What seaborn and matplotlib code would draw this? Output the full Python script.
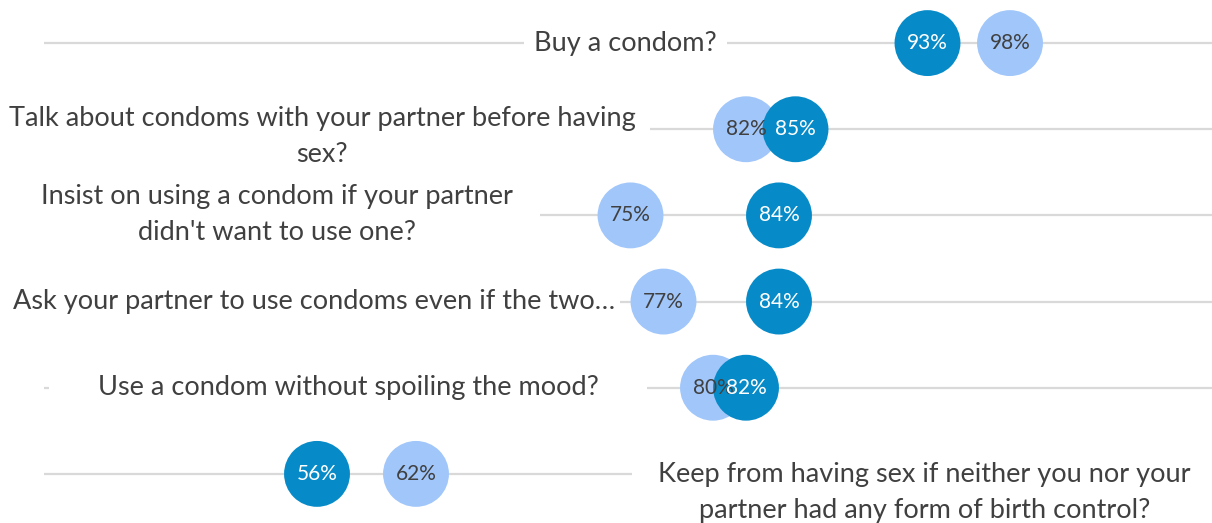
"""Dot plot: self-efficacy for condom use, two groups per question."""
import matplotlib
matplotlib.use("Agg")
import matplotlib.pyplot as plt
import pandas as pd
import seaborn as sns

questions = [
    "Buy a condom?",
    "Talk about condoms with your partner before having\nsex?",
    "Insist on using a condom if your partner\ndidn't want to use one?",
    "Ask your partner to use condoms even if the two\u2026",
    "Use a condom without spoiling the mood?",
    "Keep from having sex if neither you nor your\npartner had any form of birth control?",
]
group_dark = [93, 85, 84, 84, 82, 56]
group_light = [98, 82, 75, 77, 80, 62]

# label placement (x in % units, y in row units) and white box padding in points
label_x = [74.7, 56.3, 53.6, 55.8, 57.9, 92.8]
label_dy = [0.0, 0.09, -0.01, 0.0, 0.0, 0.22]
label_pad = [7, 11, 19, 4, 35, 19]

DARK = "#078BC8"
LIGHT = "#A0C6FA"
TEXT = "#404040"
GRID = "#D9D9D9"

sns.set_style("white")
plt.rcParams["font.family"] = ["Lato", "DejaVu Sans"]

df = pd.DataFrame({
    "row": list(range(len(questions))) * 2,
    "value": group_light + group_dark,
    "group": ["light"] * len(questions) + ["dark"] * len(questions),
})

fig = plt.figure(figsize=(12.12, 5.23), dpi=100)
ax = fig.add_axes([0, 0, 1, 1])

# 16.5 px per percentage point, 0% sits 607 px left of the figure edge
x_min, x_max = 607 / 16.5, (1212 + 607) / 16.5
ax.hlines(range(len(questions)), 39.45, x_max + 1, color=GRID, lw=1.6, zorder=1)

sns.scatterplot(
    data=df, x="value", y="row", hue="group",
    palette={"light": LIGHT, "dark": DARK},
    s=2250, linewidth=0, legend=False, ax=ax, zorder=3,
)

for _, r in df.iterrows():
    ax.text(r["value"], r["row"], f"{r['value']}%", ha="center", va="center",
            fontsize=15, color="white" if r["group"] == "dark" else TEXT, zorder=4)

for i, q in enumerate(questions):
    kw = dict(ha="center", va="center", fontsize=19.5, linespacing=1.55)
    # white box that interrupts the gridline, drawn below every label text
    ax.text(label_x[i], i + label_dy[i], q, color="none", zorder=1.5,
            bbox=dict(facecolor="white", edgecolor="none", pad=label_pad[i]), **kw)
    ax.text(label_x[i], i + label_dy[i], q, color=TEXT, zorder=2, **kw)

ax.set_xlim(x_min, x_max)
ax.set_ylim(5.57, -0.5)
ax.axis("off")

fig.savefig("out.png", dpi=100, facecolor="white")
